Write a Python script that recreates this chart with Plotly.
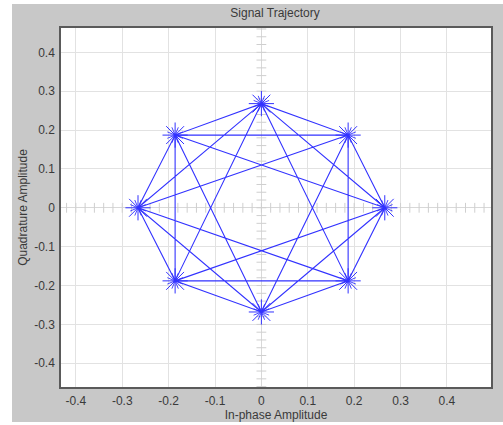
import plotly.graph_objects as go
import numpy as np

# 8-PSK constellation points
sym_i = [0.266, 0.187, 0.0, -0.186, -0.266, -0.186, 0.0, 0.187]
sym_q = [0.0, 0.187, 0.268, 0.187, 0.0, -0.188, -0.268, -0.188]
# visited symbol sequence (transitions seen in the trajectory)
symbol_seq = [0, 1, 3, 5, 7, 1, 2, 3, 4, 5, 6, 7, 0, 3, 6, 1, 4, 7, 2, 5, 0, 2, 4, 6, 0]

tick_vals = [-0.4, -0.3, -0.2, -0.1, 0, 0.1, 0.2, 0.3, 0.4]
tick_text = ["-0.4", "-0.3", "-0.2", "-0.1", "0", "0.1", "0.2", "0.3", "0.4"]

x_range = [-0.432, 0.495]
y_range = [-0.461, 0.4625]

BLUE = "rgb(50,50,255)"
GRID = "#e2e2e2"
TICKC = "#cfcfcf"

fig = go.Figure()

# graticule cross ticks along the centre axes
gx = np.arange(-0.42, 0.49, 0.02)
gy = np.arange(-0.46, 0.47, 0.02)
fig.add_trace(go.Scatter(x=gx, y=[0] * len(gx), mode="markers", hoverinfo="skip",
                         marker=dict(symbol="line-ns-open", size=7, color=TICKC,
                                     line=dict(color=TICKC, width=1)),
                         showlegend=False))
fig.add_trace(go.Scatter(x=[0] * len(gy), y=gy, mode="markers", hoverinfo="skip",
                         marker=dict(symbol="line-ew-open", size=7, color=TICKC,
                                     line=dict(color=TICKC, width=1)),
                         showlegend=False))

traj_x = [sym_i[k] for k in symbol_seq]
traj_y = [sym_q[k] for k in symbol_seq]
fig.add_trace(go.Scatter(x=traj_x, y=traj_y, mode="lines",
                         line=dict(color=BLUE, width=1.1), showlegend=False))

# star bursts at the symbol points
fig.add_trace(go.Scatter(x=sym_i, y=sym_q, mode="markers", showlegend=False,
                         marker=dict(symbol="asterisk-open", size=21, color=BLUE,
                                     line=dict(color=BLUE, width=1.0))))
fig.add_trace(go.Scatter(x=sym_i, y=sym_q, mode="markers", showlegend=False,
                         marker=dict(symbol="asterisk-open", size=14, angle=22.5, color=BLUE,
                                     line=dict(color=BLUE, width=0.9))))

ml, mr, mt, mb = 61, 12, 28, 38
W, H = 503, 425
pw, ph = W - ml - mr, H - mt - mb


def px2paper_x(p):
    return (p - ml) / pw


def px2paper_y(p):
    return (H - mb - p) / ph


shapes = [
    dict(type="rect", xref="paper", yref="paper", x0=px2paper_x(-2), x1=px2paper_x(12),
         y0=px2paper_y(H + 2), y1=px2paper_y(-2), fillcolor="white", line=dict(width=0), layer="below"),
    dict(type="rect", xref="paper", yref="paper", x0=px2paper_x(-2), x1=px2paper_x(W + 2),
         y0=px2paper_y(4), y1=px2paper_y(-2), fillcolor="white", line=dict(width=0), layer="below"),
    dict(type="rect", xref="paper", yref="paper", x0=px2paper_x(-2), x1=px2paper_x(W + 2),
         y0=px2paper_y(H + 2), y1=px2paper_y(422), fillcolor="white", line=dict(width=0), layer="below"),
]

FONT = "Liberation Sans, Arial, sans-serif"
fig.update_layout(
    width=W, height=H,
    margin=dict(l=ml, r=mr, t=mt, b=mb, autoexpand=False),
    paper_bgcolor="#c8c8c8",
    plot_bgcolor="white",
    font=dict(family=FONT, size=12, color="#3a3a3a"),
    title=dict(text="Signal Trajectory", x=px2paper_x(275), xref="paper", xanchor="center",
               y=1 - 13 / H, yanchor="middle", font=dict(size=12, color="#3a3a3a")),
    shapes=shapes,
)
fig.update_xaxes(range=x_range, tickvals=tick_vals, ticktext=tick_text, automargin=False,
                 showgrid=True, gridcolor=GRID, gridwidth=1,
                 zeroline=True, zerolinecolor="#d8d8d8", zerolinewidth=1,
                 showline=True, mirror=True, linecolor="#5a5a5a", linewidth=1.5,
                 ticks="outside", ticklen=2, tickcolor="rgba(0,0,0,0)",
                 title=dict(text="In-phase Amplitude", standoff=2, font=dict(size=12)))
fig.update_yaxes(range=y_range, tickvals=tick_vals, ticktext=tick_text, automargin=False,
                 showgrid=True, gridcolor=GRID, gridwidth=1,
                 zeroline=True, zerolinecolor="#d8d8d8", zerolinewidth=1,
                 showline=True, mirror=True, linecolor="#5a5a5a", linewidth=1.5,
                 ticks="outside", ticklen=2, tickcolor="rgba(0,0,0,0)",
                 title=dict(text="Quadrature Amplitude", standoff=4, font=dict(size=12)))

fig.write_html("out.html")
